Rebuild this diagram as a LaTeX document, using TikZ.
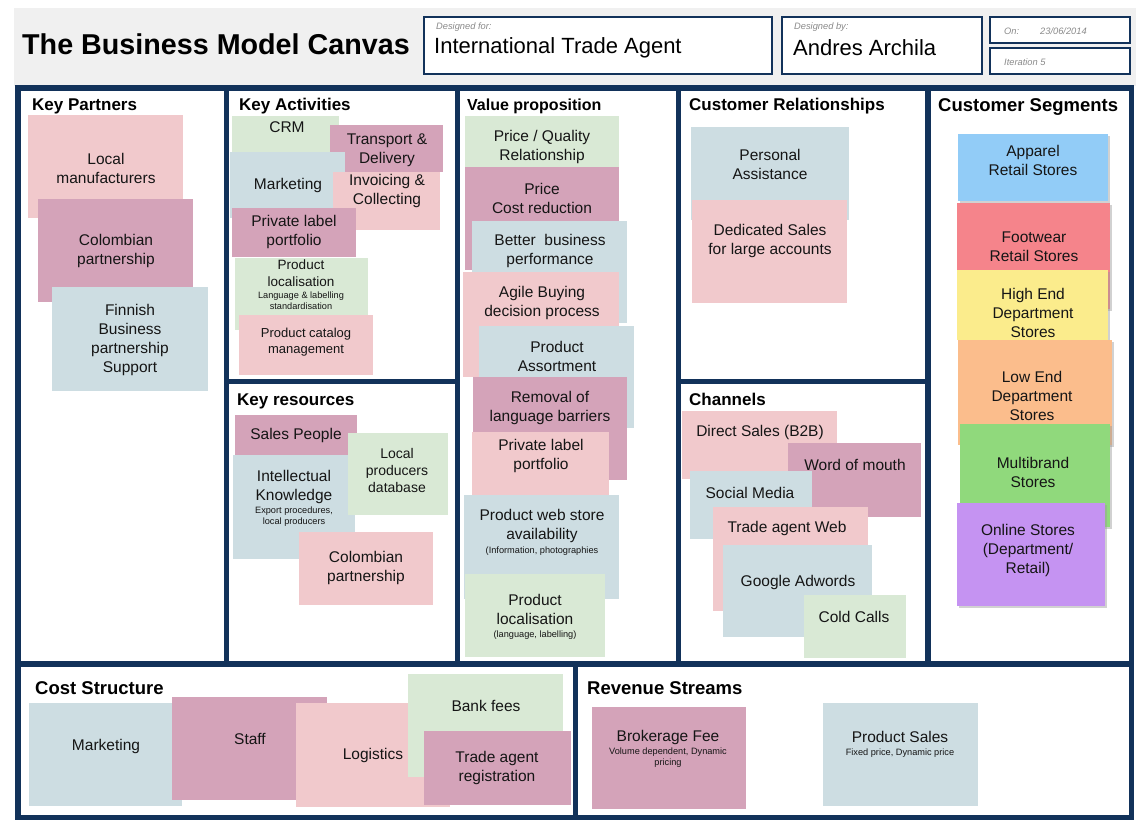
\documentclass[tikz,border=0pt]{standalone}
\usepackage{fontspec}
\setmainfont{Liberation Sans}
\usetikzlibrary{fit,shadows}

\definecolor{navy}{HTML}{12325A}
\definecolor{headbg}{HTML}{F0F0F0}
\definecolor{npink}{HTML}{F1C9CC}
\definecolor{nmauve}{HTML}{D4A3B9}
\definecolor{nblue}{HTML}{CDDDE2}
\definecolor{ngreen}{HTML}{D9E9D5}
\definecolor{sblue}{HTML}{92CCF7}
\definecolor{sred}{HTML}{F5848B}
\definecolor{syellow}{HTML}{FBEC8C}
\definecolor{sorange}{HTML}{FBBD8C}
\definecolor{sgreen}{HTML}{90D97C}
\definecolor{spurple}{HTML}{C593F2}
\definecolor{ink}{HTML}{151515}
\definecolor{labelgray}{HTML}{8A8A8A}

\tikzset{
  panel/.style={fill=white, draw=none, inner sep=0pt},
  hbox/.style={draw=navy, line width=1.3pt, fill=white, inner sep=0pt},
  note/.style={draw=none, inner sep=0pt},
  sticky/.style={note, general shadow={fill=black!40, opacity=0.45, shadow xshift=1.5pt, shadow yshift=-1.5pt}},
  ntext/.style={align=center, inner sep=0pt, text=ink, font=\fontsize{15.5}{19}\selectfont},
  mtext/.style={align=center, inner sep=0pt, text=ink, font=\fontsize{13.5}{16.5}\selectfont},
  nsmall/.style={align=center, inner sep=0pt, text=ink, font=\fontsize{9.2}{10.8}\selectfont},
  ptitle/.style={anchor=west, inner sep=0pt, text=black, font=\bfseries\fontsize{17}{20}\selectfont},
  hlabel/.style={anchor=west, inner sep=0pt, text=labelgray, font=\itshape\fontsize{9.3}{11}\selectfont},
  hvalue/.style={anchor=west, inner sep=0pt, text=black, font=\fontsize{22}{26}\selectfont},
}

\begin{document}
\begin{tikzpicture}[x=1pt, y=-1pt]
\useasboundingbox (0,0) rectangle (1136,820);

% header strip
\fill[headbg] (14,8) rectangle (1136,86);
\node[anchor=west, inner sep=0pt, font=\bfseries\fontsize{28.7}{33}\selectfont] (canvastitle) at (22,44) {The Business Model Canvas};

\node[hbox, fit={(424,17) (772,74)}] (dfor) {};
\node[hlabel] (dforl) at (436,27) {Designed for:};
\node[hvalue] (dforv) at (434,48) {International Trade Agent};

\node[hbox, fit={(782,17) (982,74)}] (dby) {};
\node[hlabel] (dbyl) at (794,27) {Designed by:};
\node[hvalue] (dbyv) at (793,48) {Andres Archila};

\node[hbox, fit={(990,17) (1130,43)}] (don) {};
\node[hlabel] (donl) at (1004,31) {On:};
\node[hlabel] (donv) at (1040,31) {23/06/2014};

\node[hbox, fit={(990,48) (1130,74)}] (diter) {};
\node[hlabel] (diterl) at (1004,62) {Iteration 5};

% canvas frame and panels
\fill[navy] (15,85) rectangle (1134,820);
\node[panel, fit={(21,91) (224,661)}] (kp) {};
\node[panel, fit={(229,91) (455,379)}] (ka) {};
\node[panel, fit={(229,384) (455,661)}] (kr) {};
\node[panel, fit={(460,91) (676,661)}] (vp) {};
\node[panel, fit={(681,91) (925,379)}] (cr) {};
\node[panel, fit={(681,384) (925,661)}] (ch) {};
\node[panel, fit={(931,91) (1129,661)}] (cs) {};
\node[panel, fit={(21,667) (573,815)}] (cost) {};
\node[panel, fit={(578,667) (1129,815)}] (rev) {};

\node[ptitle] (kpt) at (32,106) {Key Partners};
\node[ptitle] (kat) at (239,106) {Key Activities};
\node[ptitle] (krt) at (237,401) {Key resources};
\node[ptitle, font=\bfseries\fontsize{16}{19}\selectfont] (vpt) at (467,106) {Value proposition};
\node[ptitle] (crt) at (689,106) {Customer Relationships};
\node[ptitle] (cht) at (689,399) {Channels};
\node[ptitle, font=\bfseries\fontsize{18.5}{22}\selectfont] (cst) at (938,107) {Customer Segments};
\node[ptitle, font=\bfseries\fontsize{18.5}{22}\selectfont] (costt) at (35,688) {Cost Structure};
\node[ptitle, font=\bfseries\fontsize{18.5}{22}\selectfont] (revt) at (587,688) {Revenue Streams};

% Key Partners
\node[note, fill=npink, fit={(28,115) (183,218)}] (kp1) {};
\node[ntext] (kp1t) at (106,168) {Local\\manufacturers};
\node[note, fill=nmauve, fit={(38,199) (193,302)}] (kp2) {};
\node[ntext] (kp2t) at (116,251) {Colombian\\partnership};
\node[note, fill=nblue, fit={(52,287) (208,391)}] (kp3) {};
\node[ntext] (kp3t) at (130,340) {Finnish\\Business\\partnership\\Support};

% Key Activities
\node[note, fill=ngreen, fit={(232,116) (339,180)}] (ka1) {};
\node[ntext] (ka1t) at (287,127) {CRM};
\node[note, fill=nmauve, fit={(330,125) (443,172)}] (ka2) {};
\node[ntext] (ka2t) at (387,150) {Transport \&\\Delivery};
\node[note, fill=nblue, fit={(230,152) (345,218)}] (ka3) {};
\node[ntext] (ka3t) at (288,185) {Marketing};
\node[note, fill=npink, fit={(333,172) (440,230)}] (ka4) {};
\node[ntext] (ka4t) at (387,191) {Invoicing \&\\Collecting};
\node[note, fill=nmauve, fit={(232,208) (356,257)}] (ka5) {};
\node[ntext] (ka5t) at (294,232) {Private label\\portfolio};
\node[note, fill=ngreen, fit={(235,258) (368,330)}] (ka6) {};
\node[mtext] (ka6t) at (301,273) {Product\\localisation};
\node[nsmall] (ka6s) at (301,301) {Language \& labelling\\standardisation};
\node[note, fill=npink, fit={(239,315) (373,375)}] (ka7) {};
\node[mtext, font=\fontsize{13}{16}\selectfont] (ka7t) at (306,342) {Product catalog\\management};

% Key Resources
\node[note, fill=nmauve, fit={(235,415) (357,455)}] (kr1) {};
\node[ntext] (kr1t) at (296,435) {Sales People};
\node[note, fill=nblue, fit={(233,455) (355,559)}] (kr2) {};
\node[ntext] (kr2t) at (294,487) {Intellectual\\Knowledge};
\node[nsmall] (kr2s) at (294,517) {Export procedures,\\local producers};
\node[note, fill=ngreen, fit={(348,433) (448,515)}] (kr3) {};
\node[mtext, font=\fontsize{14}{17}\selectfont] (kr3t) at (397,470) {Local\\producers\\database};
\node[note, fill=npink, fit={(299,532) (433,605)}] (kr4) {};
\node[ntext] (kr4t) at (366,568) {Colombian\\partnership};

% Value proposition
\node[note, fill=ngreen, fit={(465,116) (619,167)}] (vp1) {};
\node[ntext] (vp1t) at (542,147) {Price / Quality\\Relationship};
\node[note, fill=nmauve, fit={(465,167) (619,270)}] (vp2) {};
\node[ntext] (vp2t) at (542,198) {Price\\Cost reduction};
\node[note, fill=nblue, fit={(472,221) (627,323)}] (vp3) {};
\node[ntext] (vp3t) at (550,251) {Better\ \ business\\performance};
\node[note, fill=npink, fit={(463,272) (619,377)}] (vp4) {};
\node[ntext] (vp4t) at (542,303) {Agile Buying\\decision process};
\node[note, fill=nblue, fit={(479,326) (634,428)}] (vp5) {};
\node[ntext] (vp5t) at (557,356) {Product\\Assortment};
\node[note, fill=nmauve, fit={(473,377) (627,480)}] (vp6) {};
\node[ntext] (vp6t) at (550,408) {Removal of\\language barriers};
\node[note, fill=npink, fit={(472,432) (609,500)}] (vp7) {};
\node[ntext] (vp7t) at (541,456) {Private label\\portfolio};
\node[note, fill=nblue, fit={(464,495) (619,599)}] (vp8) {};
\node[ntext] (vp8t) at (542,526) {Product web store\\availability};
\node[nsmall] (vp8s) at (542,551) {(Information, photographies};
\node[note, fill=ngreen, fit={(465,574) (605,657)}] (vp9) {};
\node[ntext] (vp9t) at (535,609) {Product\\localisation};
\node[nsmall] (vp9s) at (535,635) {(language, labelling)};

% Customer Relationships
\node[note, fill=nblue, fit={(691,127) (849,220)}] (cr1) {};
\node[ntext] (cr1t) at (770,164) {Personal\\Assistance};
\node[note, fill=npink, fit={(692,200) (847,303)}] (cr2) {};
\node[ntext] (cr2t) at (770,241) {Dedicated Sales\\for large accounts};

% Channels
\node[note, fill=npink, fit={(682,411) (837,479)}] (ch1) {};
\node[ntext] (ch1t) at (760,432) {Direct Sales (B2B)};
\node[note, fill=nmauve, fit={(788,443) (921,517)}] (ch2) {};
\node[ntext] (ch2t) at (855,465) {Word of mouth};
\node[note, fill=nblue, fit={(690,471) (812,539)}] (ch3) {};
\node[ntext] (ch3t) at (750,493) {Social Media};
\node[note, fill=npink, fit={(713,507) (868,611)}] (ch4) {};
\node[ntext] (ch4t) at (787,528) {Trade agent Web};
\node[note, fill=nblue, fit={(723,545) (872,637)}] (ch5) {};
\node[ntext] (ch5t) at (798,582) {Google Adwords};
\node[note, fill=ngreen, fit={(804,595) (906,658)}] (ch6) {};
\node[ntext] (ch6t) at (854,617) {Cold Calls};

% Customer Segments
\node[sticky, fill=sblue, fit={(958,134) (1108,201)}] (cs1) {};
\node[ntext] (cs1t) at (1033,160) {Apparel\\Retail Stores};
\node[sticky, fill=sred, fit={(957,203) (1110,309)}] (cs2) {};
\node[ntext] (cs2t) at (1034,247) {Footwear\\Retail Stores};
\node[sticky, fill=syellow, fit={(957,270) (1108,340)}] (cs3) {};
\node[ntext] (cs3t) at (1033,313) {High End\\Department\\Stores};
\node[sticky, fill=sorange, fit={(958,340) (1112,445)}] (cs4) {};
\node[ntext] (cs4t) at (1032,396) {Low End\\Department\\Stores};
\node[sticky, fill=sgreen, fit={(960,424) (1110,527)}] (cs5) {};
\node[ntext] (cs5t) at (1033,472) {Multibrand\\Stores};
\node[sticky, fill=spurple, fit={(957,503) (1105,606)}] (cs6) {};
\node[ntext] (cs6t) at (1028,550) {Online Stores\\(Department/\\Retail)};

% Cost Structure
\node[note, fill=nblue, fit={(29,703) (182,806)}] (co1) {};
\node[ntext] (co1t) at (106,746) {Marketing};
\node[note, fill=nmauve, fit={(172,697) (327,800)}] (co2) {};
\node[ntext] (co2t) at (250,739) {Staff};
\node[note, fill=npink, fit={(296,703) (450,807)}] (co3) {};
\node[ntext] (co3t) at (373,755) {Logistics};
\node[note, fill=ngreen, fit={(408,674) (563,777)}] (co4) {};
\node[ntext] (co4t) at (486,706) {Bank fees};
\node[note, fill=nmauve, fit={(424,731) (571,805)}] (co5) {};
\node[ntext] (co5t) at (497,768) {Trade agent\\registration};

% Revenue Streams
\node[note, fill=nmauve, fit={(592,707) (746,809)}] (rv1) {};
\node[ntext] (rv1t) at (668,737) {Brokerage Fee};
\node[nsmall] (rv1s) at (668,758) {Volume dependent, Dynamic\\pricing};
\node[note, fill=nblue, fit={(823,703) (978,806)}] (rv2) {};
\node[ntext] (rv2t) at (900,737) {Product Sales};
\node[nsmall] (rv2s) at (900,753) {Fixed price, Dynamic price};

\end{tikzpicture}
\end{document}
